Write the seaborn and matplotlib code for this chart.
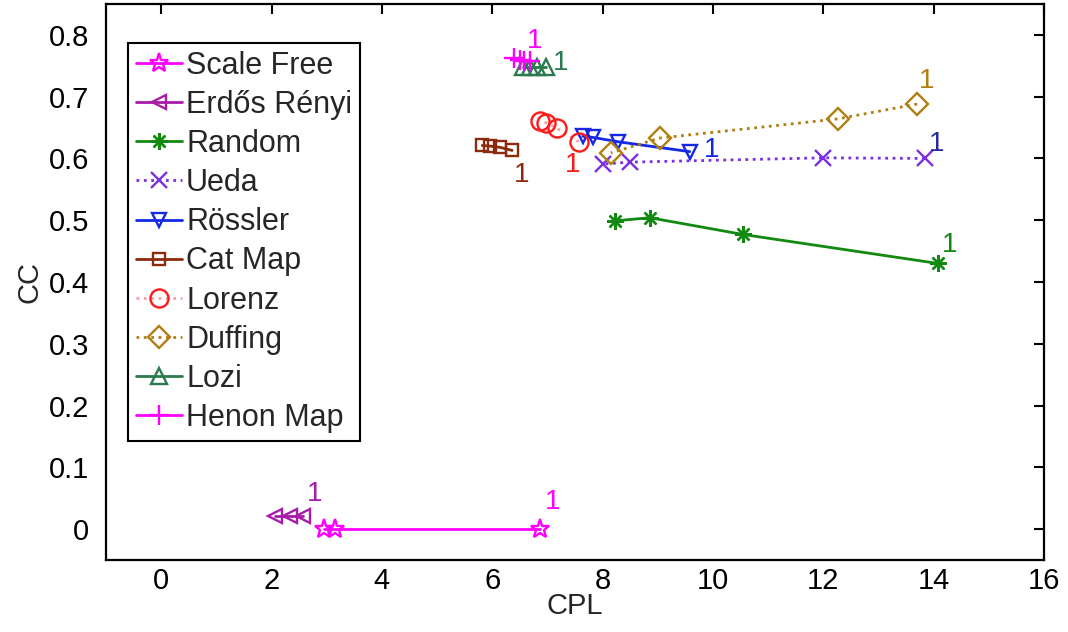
import matplotlib
matplotlib.use("Agg")
import matplotlib.pyplot as plt
import seaborn as sns
import pandas as pd

# ---------------- data (first point of each series is point "1") -------------
names = ["Scale Free", "Erdős Rényi", "Random", "Ueda", "Rössler",
         "Cat Map", "Lorenz", "Duffing", "Lozi", "Henon Map"]

scale_free_x = [6.87, 3.15, 2.95]
scale_free_y = [0.000, 0.000, 0.000]
erdos_x = [2.57, 2.34, 2.07]
erdos_y = [0.022, 0.022, 0.022]
random_x = [14.08, 10.54, 8.86, 8.22]
random_y = [0.430, 0.477, 0.504, 0.499]
ueda_x = [13.84, 12.00, 8.50, 8.01]
ueda_y = [0.600, 0.601, 0.594, 0.591]
rossler_x = [9.58, 8.28, 7.83, 7.64]
rossler_y = [0.611, 0.627, 0.634, 0.636]
catmap_x = [6.36, 6.14, 5.96, 5.82]
catmap_y = [0.613, 0.618, 0.620, 0.621]
lorenz_x = [7.57, 7.17, 6.97, 6.87]
lorenz_y = [0.627, 0.649, 0.658, 0.660]
duffing_x = [13.70, 12.26, 9.04, 8.15]
duffing_y = [0.688, 0.664, 0.633, 0.609]
lozi_x = [6.98, 6.82, 6.68, 6.55]
lozi_y = [0.748, 0.748, 0.748, 0.748]
henon_x = [6.68, 6.58, 6.50, 6.40]
henon_y = [0.757, 0.758, 0.760, 0.762]

xs = [scale_free_x, erdos_x, random_x, ueda_x, rossler_x,
      catmap_x, lorenz_x, duffing_x, lozi_x, henon_x]
ys = [scale_free_y, erdos_y, random_y, ueda_y, rossler_y,
      catmap_y, lorenz_y, duffing_y, lozi_y, henon_y]

x_ticks = [0, 2, 4, 6, 8, 10, 12, 14, 16]
y_ticks = [0, 0.1, 0.2, 0.3, 0.4, 0.5, 0.6, 0.7, 0.8]
y_ticklabels = ["0", "0.1", "0.2", "0.3", "0.4", "0.5", "0.6", "0.7", "0.8"]

# ---------------- styles ------------------------------------------------------
line_colors = ["#ff00ff", "#a81ca8", "#128a12", "#7b2fe0", "#1428e6",
               "#8c2a0c", "#f4a0a8", "#b07f12", "#2a7a4e", "#ff00ff"]
marker_colors = ["#ff00ff", "#a81ca8", "#128a12", "#7b2fe0", "#1428e6",
                 "#8c2a0c", "#ff1a1a", "#b07f12", "#2a7a4e", "#ff00ff"]
label_colors = ["#ff00ff", "#a81ca8", "#128a12", "#2a2aa0", "#1428e6",
                "#8c2a0c", "#ff1a1a", "#b07f12", "#2a7a4e", "#ff00ff"]
markers = ["*", "<", (8, 2, 0), "x", "v", "s", "o", "D", "^", "+"]
linestyles = ["-", "-", "-", ":", "-", "-", ":", ":", "-", "-"]
msizes = [14, 10, 12, 11, 10, 9, 13, 11, 11, 15]
label_offsets = [(12, 27), (12, 22), (12, 18), (12, 14), (22, 2),
                 (10, -25), (-6, -23), (10, 23), (14, 4), (5, 20)]

sns.set_theme(style="white")
plt.rcParams["font.family"] = ["Liberation Sans", "DejaVu Sans"]

fig = plt.figure(figsize=(10.68, 6.32), dpi=100)
ax = fig.add_axes([106 / 1068, 1 - 560 / 632, (1044 - 106) / 1068, (560 - 4) / 632])

for i, name in enumerate(names):
    df = pd.DataFrame({"CPL": xs[i], "CC": ys[i]})
    mk = markers[i]
    open_marker = mk not in ("x", "+") and not isinstance(mk, tuple)
    kw = dict(markerfacecolor="none" if open_marker else marker_colors[i],
              markeredgecolor=marker_colors[i],
              markeredgewidth=1.7,
              markersize=msizes[i])
    sns.lineplot(data=df, x="CPL", y="CC", ax=ax, sort=False, estimator=None,
                 color=line_colors[i], linestyle=linestyles[i],
                 linewidth=2.0, marker=mk, label=name, **kw)
    ax.annotate("1", (xs[i][0], ys[i][0]), xytext=label_offsets[i],
                textcoords="offset pixels", ha="center", va="center",
                fontsize=20, color=label_colors[i])

ax.set_xlim(-1, 16)
ax.set_ylim(-0.05, 0.85)
ax.set_xticks(x_ticks)
ax.set_yticks(y_ticks)
ax.set_yticklabels(y_ticklabels)
ax.set_xlabel("CPL", fontsize=21, labelpad=-2)
ax.set_ylabel("CC", fontsize=21, labelpad=4)
ax.tick_params(axis="both", which="both", direction="in", length=7, width=1.5,
               top=True, right=True, labelsize=21, colors="black")
ax.tick_params(axis="x", pad=5)
ax.tick_params(axis="y", pad=12)
for s in ax.spines.values():
    s.set_visible(True)
    s.set_color("black")
    s.set_linewidth(1.6)

leg = ax.legend(loc="upper left", bbox_to_anchor=(0.0235, 0.93), fontsize=22,
                frameon=True, fancybox=False, edgecolor="black",
                handlelength=1.5, handletextpad=0.15, labelspacing=0.3,
                borderpad=0.25, borderaxespad=0.0)
leg.get_frame().set_linewidth(1.5)
leg.get_frame().set_alpha(1)

fig.savefig("out.png", dpi=100)
